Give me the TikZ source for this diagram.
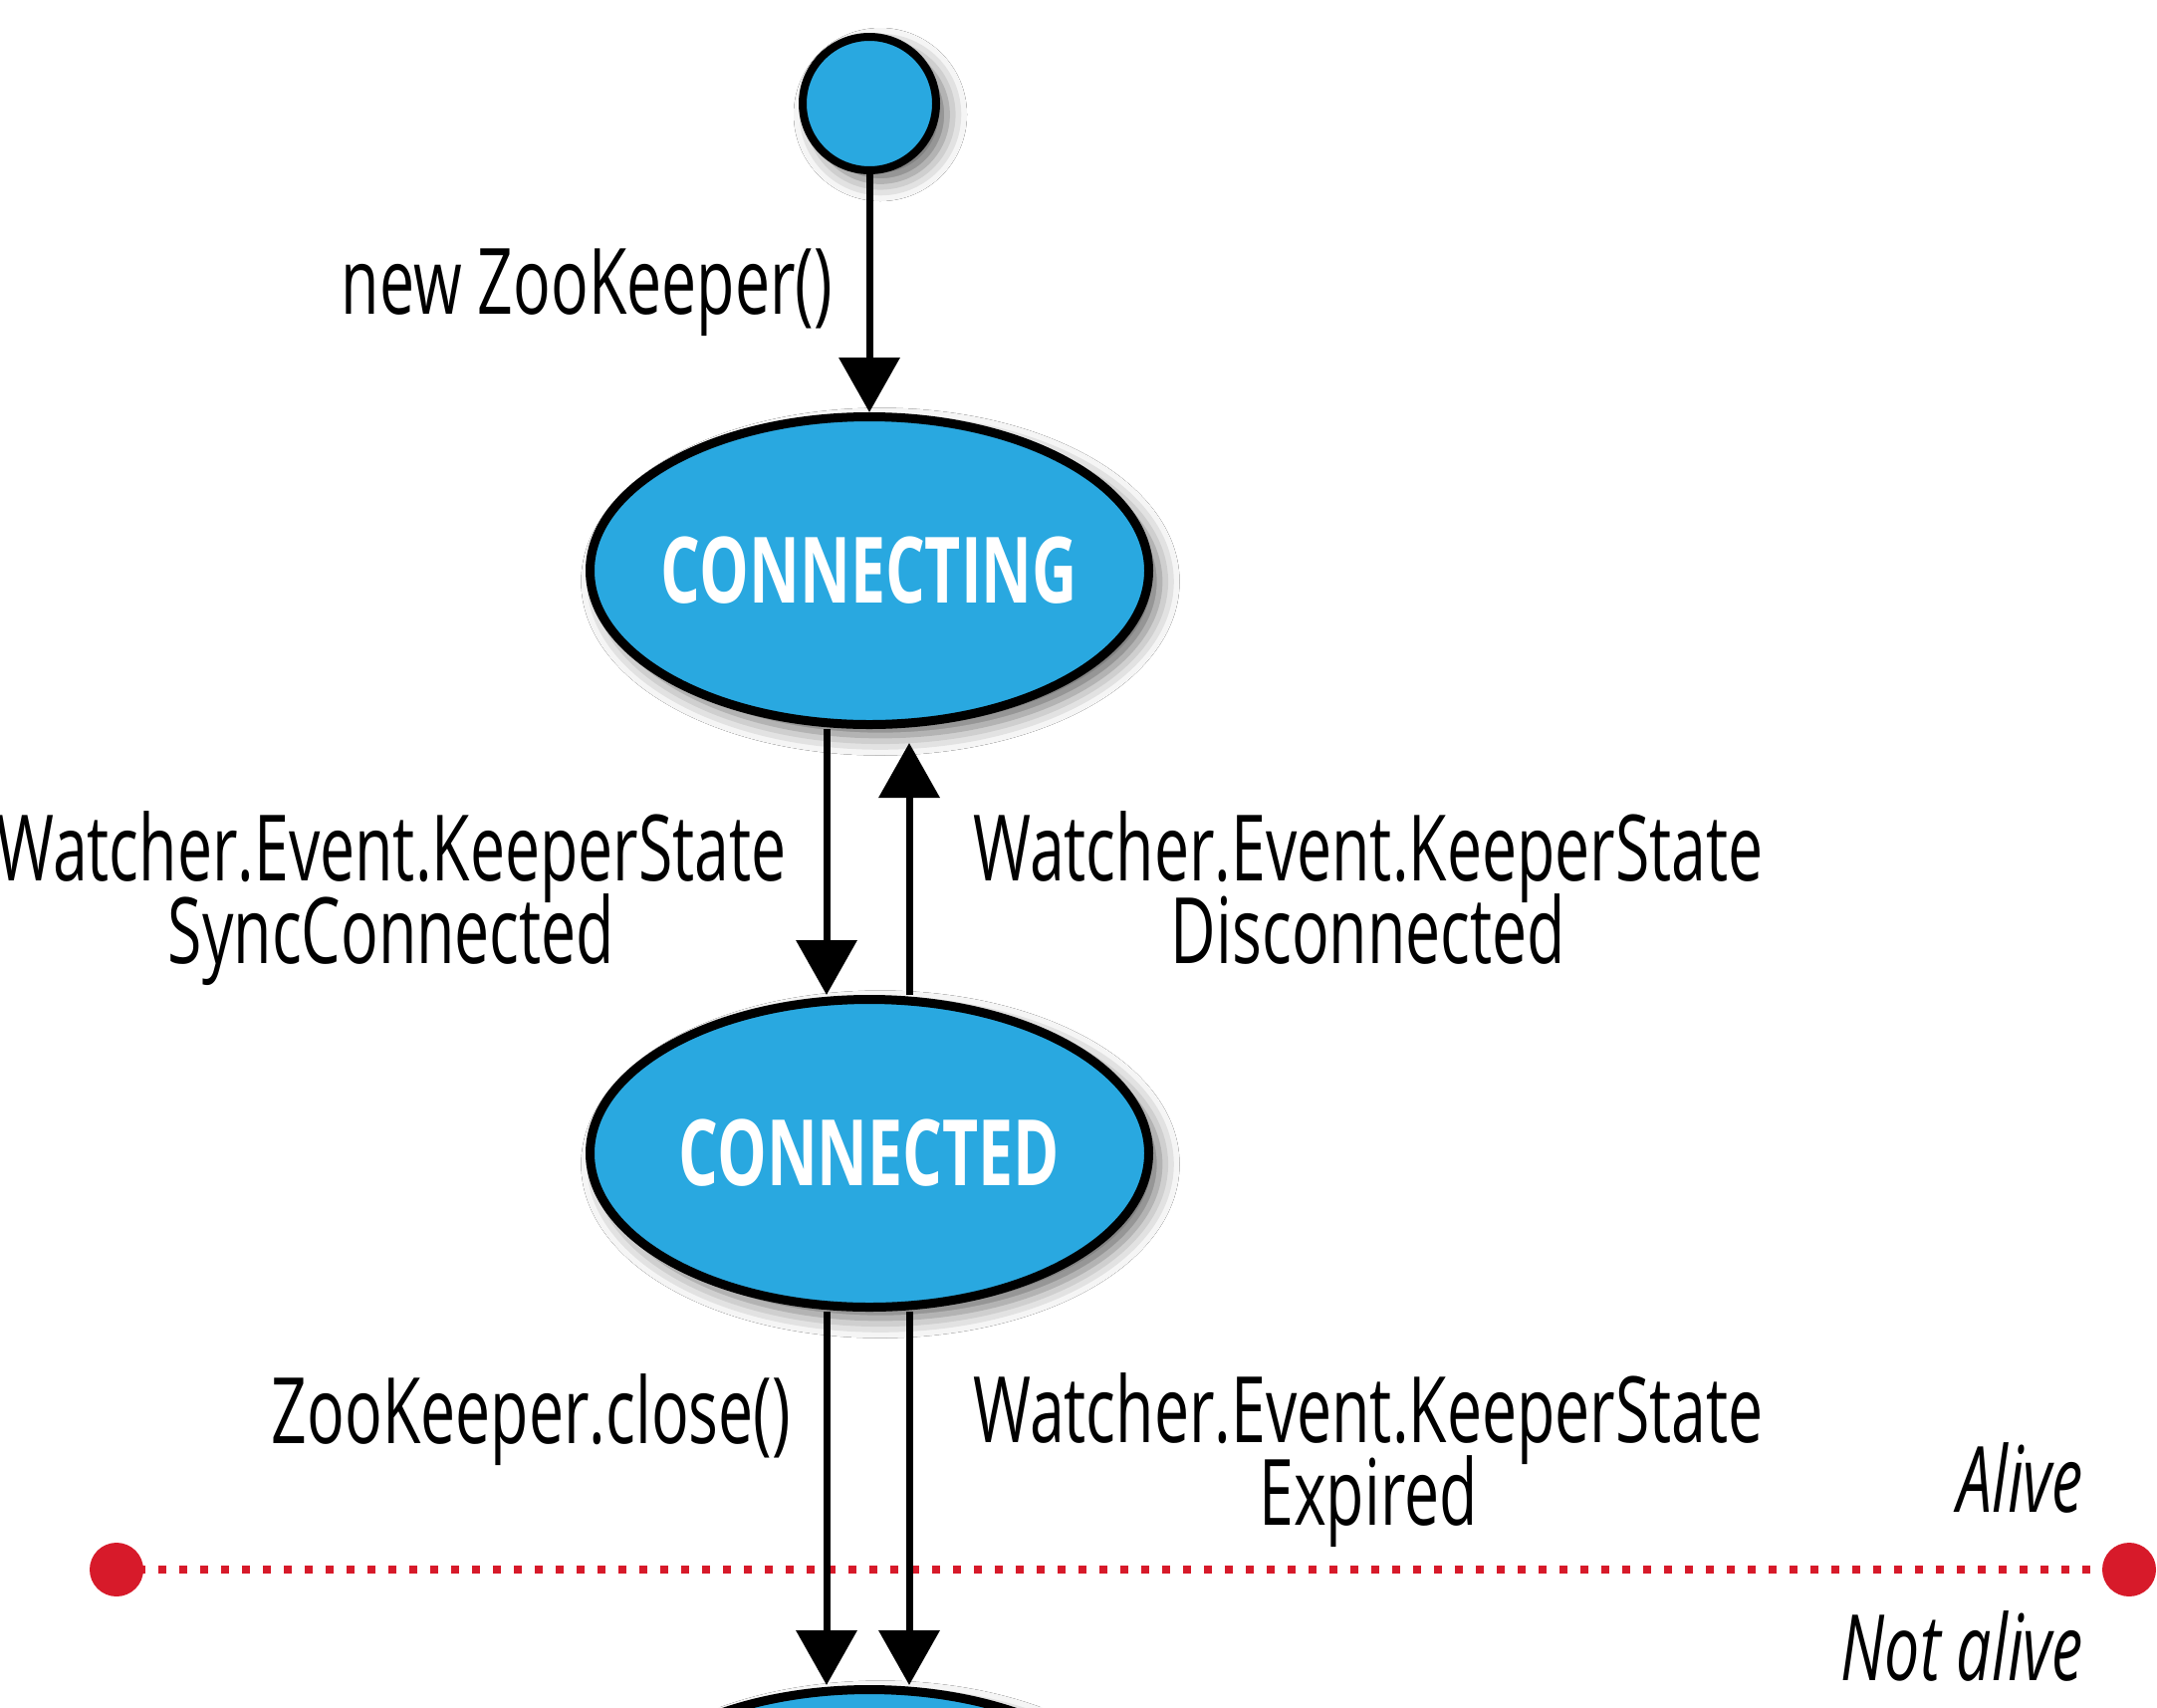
\documentclass[tikz,border=0pt]{standalone}
\usepackage{fontspec}
\setmainfont{Open Sans}[FakeStretch=0.68]
\usetikzlibrary{arrows.meta,shapes.geometric,shadows.blur}
\definecolor{zkblue}{RGB}{41,168,224}
\definecolor{zkred}{RGB}{215,26,42}
\newcommand{\lblfont}{\fontsize{92}{83}\selectfont\lineskiplimit=-200pt\relax}
\newcommand{\statefont}{\fontsize{92}{100}\selectfont\bfseries}
\newcommand{\statetext}[1]{\makebox[0pt][c]{#1}}
\begin{document}
\begin{tikzpicture}[x=1pt,y=-1pt,
  shad/.style={blur shadow={shadow xshift=11pt, shadow yshift=-11pt, shadow blur radius=20pt, shadow opacity=60}},
  state/.style={ellipse, draw=black, line width=9pt, fill=zkblue, minimum width=561pt, minimum height=309pt, inner sep=0pt, text=white, font=\statefont, shad},
  initstate/.style={circle, draw=black, line width=8pt, fill=zkblue, minimum size=134pt, inner sep=0pt, shad},
  arr/.style={line width=7pt, -{Triangle[length=55pt,width=60pt]}},
  lbl/.style={inner sep=0pt, font=\lblfont},
  lbltwo/.style={inner sep=0pt, font=\lblfont, align=center},
  lblit/.style={inner sep=0pt, font=\lblfont\itshape},
  boundary/.style={zkred, line width=8pt, dash pattern=on 8pt off 13pt},
]
\useasboundingbox (0,0) rectangle (2166,1714);
\clip (0,0) rectangle (2166,1714);
\fill[white] (0,0) rectangle (2166,1714);

% states
\node[initstate] (init) at (873,104) {};
\node[state] (cing) at (873,573) {\statetext{CONNECTING}};
\node[state] (ced) at (873,1158) {\statetext{CONNECTED}};
\node[state] (closed) at (873,1851) {};

% alive / not alive boundary
\coordinate (la) at (117,1576);
\coordinate (lb) at (2138,1576);
\draw[boundary] (la) -- (lb);
\fill[zkred] (la) circle (27pt);
\fill[zkred] (lb) circle (27pt);

% transitions
\draw[arr] (init) -- (cing);
\draw[arr] ([xshift=-43pt]cing.south) -- ([xshift=-43pt]ced.north);
\draw[arr, shorten >=14pt] ([xshift=40pt]ced.north) -- ([xshift=40pt]cing.south);
\draw[arr] ([xshift=-43pt]ced.south) -- ([xshift=-43pt]closed.north);
\draw[arr] ([xshift=40pt]ced.south) -- ([xshift=40pt]closed.north);

% labels
\node[lbl, anchor=base east] (lnew) at (836,315) {new ZooKeeper()};
\node[lbltwo, anchor=base] (lsync) at (393,967) {Watcher.Event.KeeperState\\SyncConnected};
\node[lbltwo, anchor=base] (ldis) at (1374,967) {Watcher.Event.KeeperState\\Disconnected};
\node[lbl, anchor=base east] (lclose) at (794,1449) {ZooKeeper.close()};
\node[lbltwo, anchor=base] (lexp) at (1374,1531) {Watcher.Event.KeeperState\\Expired};
\node[lblit, anchor=base east] (lalive) at (2092,1518) {Alive};
\node[lblit, anchor=base east] (lnot) at (2092,1687) {Not alive};
\end{tikzpicture}
\end{document}
